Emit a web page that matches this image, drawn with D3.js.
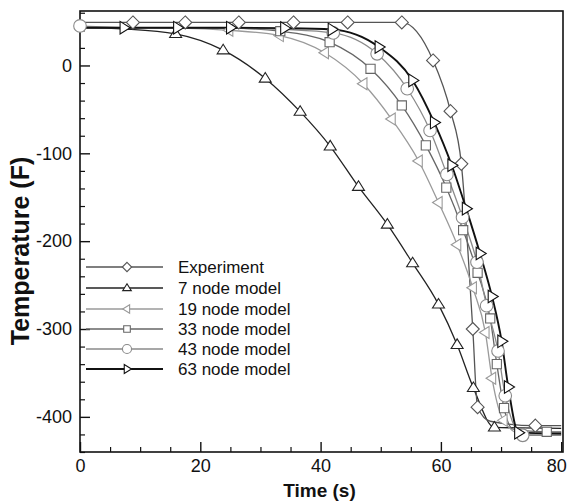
<!DOCTYPE html>
<html>
<head>
<meta charset="utf-8">
<script src="https://cdn.jsdelivr.net/npm/d3@7"></script>
<style>
  html, body { margin: 0; padding: 0; background: #ffffff; }
  svg { display: block; font-family: "Liberation Sans", Arial, Helvetica, sans-serif; }
</style>
</head>
<body>
<svg id="chart" width="569" height="501"></svg>
<script>
// ---------- data ----------
const xMajorTicks = [0, 20, 40, 60, 80];
const yMajorTicks = [-400, -300, -200, -100, 0];

const seriesNames = ["Experiment", "7 node model", "19 node model", "33 node model", "43 node model", "63 node model"];

const expTime = [0, 8.8, 17.5, 26.4, 35.5, 44.5, 53.5, 58.7, 61.6, 63.4, 65.3, 66.1, 68.2, 75.7, 80];
const expTemp = [49, 49, 49, 49, 49, 49, 49, 5.7, -52, -112, -300, -389, -405, -410, -410];
const expNoMark = [0, 12, 14];

const n7Time = [0, 7.5, 15.9, 23.8, 30.8, 36.6, 41.6, 46.3, 51.1, 55.3, 59.6, 62.7, 65.4, 68.9, 80];
const n7Temp = [43, 41.5, 36, 17.4, -14.8, -52.6, -92, -138, -181, -225, -272, -318, -367, -412, -413];
const n7NoMark = [0, 1, 14];

const n19Time = [0, 8, 16.5, 24.8, 33.2, 40.7, 47.1, 51.8, 56.3, 59.6, 62.7, 65.3, 67.4, 68.5, 70.4, 73.5, 80];
const n19Temp = [43, 43, 42.5, 40, 34, 14.4, -20.8, -61, -108.7, -156, -204, -253, -304, -356, -404, -420, -420];
const n19NoMark = [0, 1, 2, 16];

const n33Time = [0, 8.3, 16.6, 25, 33.3, 41.5, 48.3, 53.5, 57.5, 60.9, 63.7, 66.1, 68.2, 69.3, 70.5, 72, 77.6, 80];
const n33Temp = [43, 43, 43, 42.5, 39, 26.5, -3.8, -45.5, -91, -139, -187.5, -236, -288, -340, -390, -414, -417, -417];
const n33NoMark = [0, 1, 2, 3, 15, 17];

const n43Time = [0, 8.5, 17, 25.5, 34, 42.1, 49.4, 54.4, 58.2, 61, 63.6, 66, 67.6, 69.5, 70.7, 73.6, 80];
const n43Temp = [45, 43, 43, 42.5, 41, 37, 13.3, -26.5, -74, -124, -173, -224, -273.5, -325, -376, -421, -421];
const n43NoMark = [1, 2, 3, 4, 16];

const n63Time = [0, 7.3, 16.2, 25, 34, 41.9, 49.7, 55.3, 58.9, 61.8, 64.2, 66.5, 68.5, 70.1, 71.2, 72.9, 80];
const n63Temp = [43, 43, 43, 43, 42.5, 41, 21, -17, -65, -113.6, -163, -214, -263, -314, -366, -418, -419];
const n63NoMark = [0, 16];

// ---------- styling ----------
const styles = [
  { color: "#555", width: 1.3, marker: "diamond",  size: 6.5 },
  { color: "#222", width: 1.3, marker: "triUp",    size: 6 },
  { color: "#9a9a9a", width: 1.3, marker: "triLeft", size: 6 },
  { color: "#666", width: 1.3, marker: "square",   size: 4.6 },
  { color: "#8a8a8a", width: 1.3, marker: "circle", size: 6.3 },
  { color: "#111", width: 1.9, marker: "triRight", size: 6.3 }
];

const series = [
  [expTime, expTemp, expNoMark],
  [n7Time, n7Temp, n7NoMark],
  [n19Time, n19Temp, n19NoMark],
  [n33Time, n33Temp, n33NoMark],
  [n43Time, n43Temp, n43NoMark],
  [n63Time, n63Temp, n63NoMark]
].map((s, i) => ({
  name: seriesNames[i],
  pts: s[0].map((t, j) => ({ t, v: s[1][j], mark: !s[2].includes(j) })),
  style: styles[i]
}));

// ---------- layout ----------
const svg = d3.select("#chart");
const L = 80, R = 563, T = 11, B = 452;
const x = d3.scaleLinear().domain([0, 80.3]).range([L, R]);
const y = d3.scaleLinear().domain([-440, 62]).range([B, T]);

function markerPath(type, s) {
  switch (type) {
    case "diamond": return `M0,${-s}L${s},0L0,${s}L${-s},0Z`;
    case "triUp": { const h = s * 1.6; return `M0,${-h*0.62}L${s},${h*0.38}L${-s},${h*0.38}Z`; }
    case "triLeft": { const h = s * 1.6; return `M${-h*0.62},0L${h*0.38},${-s}L${h*0.38},${s}Z`; }
    case "triRight": { const h = s * 1.6; return `M${h*0.62},0L${-h*0.38},${-s}L${-h*0.38},${s}Z`; }
    case "square": return `M${-s},${-s}H${s}V${s}H${-s}Z`;
    case "circle": return `M${s},0A${s},${s} 0 1,1 ${-s},0A${s},${s} 0 1,1 ${s},0Z`;
  }
}

// axes (ticks inward)
const yMinor = d3.range(-440, 62, 20).filter(v => !yMajorTicks.includes(v));
const xMinor = d3.range(0, 81, 5).filter(v => !xMajorTicks.includes(v));

svg.append("g").attr("transform", `translate(${L},0)`)
  .call(d3.axisLeft(y).tickValues(yMinor).tickSize(-5).tickFormat(""))
  .call(g => g.select(".domain").remove())
  .selectAll("line").attr("stroke", "#111").attr("stroke-width", 1.2);

svg.append("g").attr("transform", `translate(0,${B})`)
  .call(d3.axisBottom(x).tickValues(xMinor).tickSize(-5).tickFormat(""))
  .call(g => g.select(".domain").remove())
  .selectAll("line").attr("stroke", "#111").attr("stroke-width", 1.2);

const yAx = svg.append("g").attr("transform", `translate(${L},0)`)
  .call(d3.axisLeft(y).tickValues(yMajorTicks).tickSize(-10).tickPadding(8).tickFormat(d => d === 0 ? "0" : "-" + Math.abs(d)))
  .call(g => g.select(".domain").remove());
yAx.selectAll("line").attr("stroke", "#111").attr("stroke-width", 1.4);
yAx.selectAll("text").attr("font-size", 18).attr("fill", "#111").attr("font-family", "Liberation Sans, Arial, sans-serif");

const xAx = svg.append("g").attr("transform", `translate(0,${B})`)
  .call(d3.axisBottom(x).tickValues(xMajorTicks).tickSize(-10).tickPadding(6))
  .call(g => g.select(".domain").remove());
xAx.selectAll("line").attr("stroke", "#111").attr("stroke-width", 1.4);
xAx.selectAll("text").attr("font-size", 18).attr("fill", "#111").attr("dy", "0.8em")
  .attr("dx", d => d === 80 ? -5 : 0)
  .attr("font-family", "Liberation Sans, Arial, sans-serif");

// frame
svg.append("rect").attr("x", L).attr("y", T).attr("width", R - L).attr("height", B - T)
  .attr("fill", "none").attr("stroke", "#111").attr("stroke-width", 1.6);

// axis titles
svg.append("text").attr("x", (L + R) / 2 - 2).attr("y", 497).attr("text-anchor", "middle")
  .attr("font-size", 19).attr("font-weight", "bold").attr("fill", "#111").text("Time (s)");
svg.append("text").attr("transform", `translate(29,251) rotate(-90)`).attr("text-anchor", "middle")
  .attr("font-size", 25).attr("font-weight", "bold").attr("fill", "#111").text("Temperature (F)");

// lines
const line = d3.line().x(d => x(d.t)).y(d => y(d.v)).curve(d3.curveMonotoneX);
const drawOrder = [1, 0, 2, 3, 4, 5];
drawOrder.forEach(i => {
  const s = series[i];
  svg.append("path").datum(s.pts).attr("d", line)
    .attr("fill", "none").attr("stroke", s.style.color).attr("stroke-width", s.style.width);
});
drawOrder.forEach(i => {
  const s = series[i];
  svg.append("g").selectAll("path").data(s.pts.filter(d => d.mark)).join("path")
    .attr("transform", d => `translate(${x(d.t)},${y(d.v)})`)
    .attr("d", markerPath(s.style.marker, s.style.size))
    .attr("fill", "#fff").attr("stroke", s.style.color).attr("stroke-width", 1.1);
});

// legend
const legY = [267, 288, 309, 329, 349, 369];
series.forEach((s, i) => {
  const g = svg.append("g").attr("transform", `translate(0,${legY[i]})`);
  g.append("line").attr("x1", 86).attr("x2", 163).attr("y1", 0).attr("y2", 0)
    .attr("stroke", s.style.color).attr("stroke-width", s.style.width);
  g.append("path").attr("transform", "translate(127,0)")
    .attr("d", markerPath(s.style.marker, s.style.size * 0.72))
    .attr("fill", "#fff").attr("stroke", s.style.color).attr("stroke-width", 1.1);
  g.append("text").attr("x", 178).attr("y", 6).attr("font-size", 17).attr("fill", "#111").text(s.name);
});
</script>
</body>
</html>
